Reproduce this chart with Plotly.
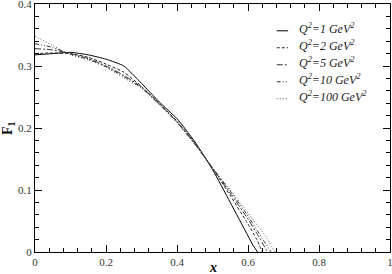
import plotly.graph_objects as go

# F1(x)
x_q1 = [0, 0.05, 0.1, 0.15, 0.2, 0.25, 0.3, 0.35, 0.4, 0.45, 0.5, 0.55, 0.6, 0.615, 0.627]
f1_q1 = [0.318, 0.320, 0.322, 0.318, 0.311, 0.300, 0.272, 0.242, 0.215, 0.178, 0.133, 0.080, 0.026, 0.010, 0.0]

x_q2 = [0, 0.05, 0.1, 0.15, 0.2, 0.25, 0.3, 0.35, 0.4, 0.45, 0.5, 0.55, 0.6, 0.625, 0.64]
f1_q2 = [0.320, 0.321, 0.320, 0.314, 0.303, 0.290, 0.267, 0.240, 0.211, 0.176, 0.135, 0.091, 0.045, 0.020, 0.0]

x_q5 = [0, 0.05, 0.1, 0.15, 0.2, 0.25, 0.3, 0.35, 0.4, 0.45, 0.5, 0.55, 0.6, 0.63, 0.655]
f1_q5 = [0.328, 0.326, 0.320, 0.312, 0.300, 0.285, 0.266, 0.239, 0.210, 0.175, 0.135, 0.095, 0.053, 0.025, 0.0]

x_q10 = [0, 0.05, 0.1, 0.15, 0.2, 0.25, 0.3, 0.35, 0.4, 0.45, 0.5, 0.55, 0.6, 0.64, 0.665]
f1_q10 = [0.336, 0.330, 0.319, 0.311, 0.299, 0.283, 0.265, 0.238, 0.209, 0.174, 0.136, 0.098, 0.058, 0.022, 0.0]

x_q100 = [0, 0.05, 0.1, 0.15, 0.2, 0.25, 0.3, 0.35, 0.4, 0.45, 0.5, 0.55, 0.6, 0.65, 0.676]
f1_q100 = [0.348, 0.333, 0.318, 0.310, 0.298, 0.281, 0.264, 0.238, 0.209, 0.174, 0.136, 0.100, 0.063, 0.025, 0.0]

q2_labels = ["1", "2", "5", "10", "100"]
xs = [x_q1, x_q2, x_q5, x_q10, x_q100]
ys = [f1_q1, f1_q2, f1_q5, f1_q10, f1_q100]
dashes = ["solid", "3px,2px", "6px,2px,2px,2px", "4px,2px,1px,2px,1px,2px", "1px,2px"]
colors = ["#000000", "#222222", "#333333", "#333333", "#555555"]

serif = "Liberation Serif"

fig = go.Figure()
for lab, x, y, d, c in zip(q2_labels, xs, ys, dashes, colors):
    fig.add_trace(go.Scatter(
        x=x, y=y, mode="lines",
        line=dict(color=c, width=1, dash=d, shape="spline", smoothing=0.5),
        showlegend=False,
    ))

# hand-drawn legend in the upper right (paper coords)
leg_x0, leg_x1, leg_tx = 0.681, 0.713, 0.738
leg_top, leg_step = 0.90, 0.0685
for i, (lab, d, c) in enumerate(zip(q2_labels, dashes, colors)):
    yy = leg_top - i * leg_step
    fig.add_shape(type="line", xref="paper", yref="paper",
                  x0=leg_x0, x1=leg_x1, y0=yy - 0.008, y1=yy - 0.008,
                  line=dict(color=c, width=1, dash=d))
    fig.add_annotation(xref="paper", yref="paper", x=leg_tx, y=yy,
                       xanchor="left", yanchor="middle", showarrow=False,
                       text=f"<i>Q<sup>2</sup>={lab} GeV<sup>2</sup></i>",
                       font=dict(family=serif, size=12, color="#222222"))

axis_common = dict(
    showline=True, linecolor="black", linewidth=1, mirror="allticks",
    ticks="inside", ticklen=7, tickcolor="black", tickwidth=1,
    showgrid=False, zeroline=False, automargin=False,
    ticklabeloverflow="allow",
    tickfont=dict(family=serif, size=11, color="#333333"),
)

fig.update_xaxes(
    range=[0, 1], tickvals=[0, 0.2, 0.4, 0.6, 0.8, 1],
    ticktext=["0", "0.2", "0.4", "0.6", "0.8", "1"],
    minor=dict(dtick=0.04, ticklen=4, ticks="inside", tickcolor="black"),
    **axis_common,
)
fig.update_yaxes(
    range=[0, 0.4], tickvals=[0, 0.1, 0.2, 0.3, 0.4],
    ticktext=["0", "0.1", "0.2", "0.3", "0.4"],
    minor=dict(dtick=0.02, ticklen=4, ticks="inside", tickcolor="black"),
    **axis_common,
)

# axis titles
fig.add_annotation(xref="paper", yref="paper", x=0.5, y=-0.064,
                   xanchor="center", yanchor="middle",
                   showarrow=False, text="<b><i>x</i></b>",
                   font=dict(family=serif, size=14, color="black"))
fig.add_annotation(xref="paper", yref="paper", x=-0.076, y=0.5, textangle=-90,
                   xanchor="center", yanchor="middle",
                   showarrow=False, text="<b>F<sub>1</sub></b>",
                   font=dict(family=serif, size=14, color="black"))

fig.update_layout(
    width=392, height=274,
    margin=dict(l=35, r=2, t=4, b=22),
    plot_bgcolor="white", paper_bgcolor="white",
    showlegend=False,
)

fig.write_html("out.html", config={"displayModeBar": False},
               post_script="document.body.style.margin='0';")
